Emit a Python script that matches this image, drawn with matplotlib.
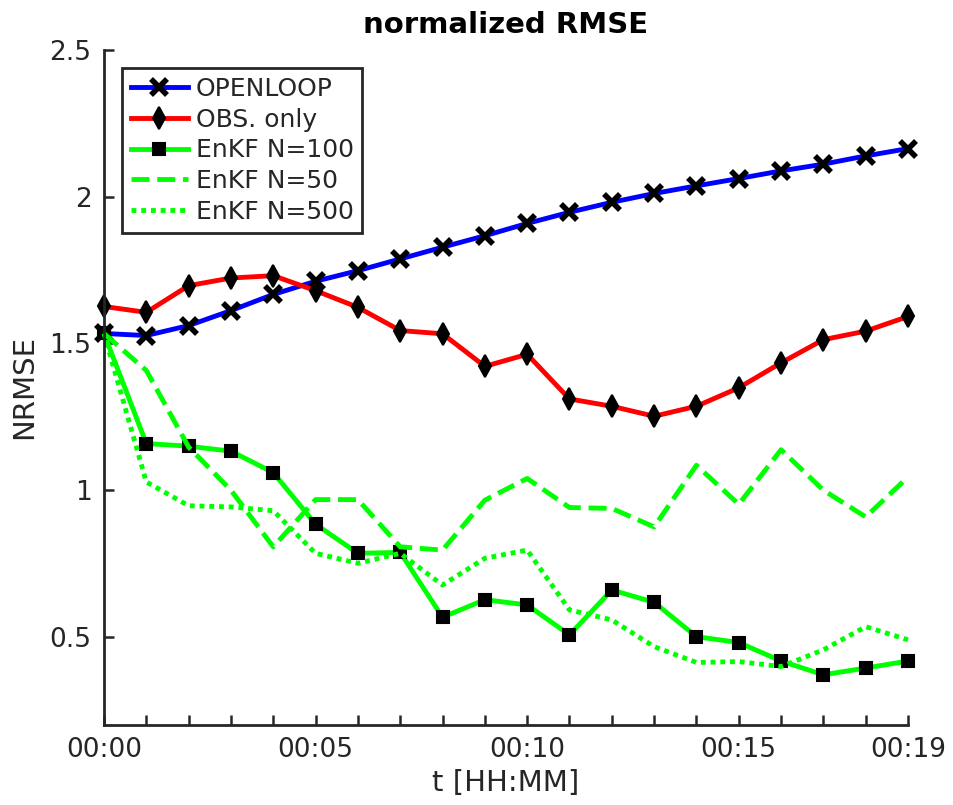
import matplotlib
matplotlib.use('Agg')
import matplotlib.pyplot as plt

# minutes since start
t = list(range(20))
tick_labels = ['00:00', '', '', '', '', '00:05', '', '', '', '', '00:10',
               '', '', '', '', '00:15', '', '', '', '00:19']

openloop = [1.534, 1.527, 1.561, 1.612, 1.667, 1.712, 1.748, 1.788, 1.828, 1.867,
            1.909, 1.947, 1.981, 2.011, 2.037, 2.062, 2.088, 2.111, 2.139, 2.164]
obs_only = [1.626, 1.606, 1.697, 1.723, 1.731, 1.680, 1.623, 1.544, 1.533, 1.422,
            1.463, 1.311, 1.286, 1.252, 1.286, 1.349, 1.434, 1.513, 1.542, 1.592]
enkf_100 = [1.534, 1.159, 1.150, 1.133, 1.060, 0.884, 0.785, 0.788, 0.567, 0.627,
            0.609, 0.507, 0.660, 0.618, 0.501, 0.481, 0.418, 0.371, 0.394, 0.418]
enkf_50 = [1.534, 1.408, 1.147, 1.000, 0.807, 0.968, 0.968, 0.807, 0.796, 0.966,
           1.040, 0.941, 0.938, 0.875, 1.085, 0.952, 1.138, 1.000, 0.909, 1.045]
enkf_500 = [1.534, 1.028, 0.947, 0.943, 0.930, 0.785, 0.751, 0.785, 0.677, 0.768,
            0.796, 0.592, 0.558, 0.467, 0.413, 0.416, 0.399, 0.456, 0.535, 0.490]

dark = '#262626'
lw = 3.5

fig = plt.figure(figsize=(9.54, 8.05), dpi=100)
ax = fig.add_axes([0.109, 0.0994, 0.8428, 0.8385])

ax.plot(t, openloop, color='#0000ff', lw=lw, marker='x', ms=12, mew=4,
        mec='k', label='OPENLOOP', clip_on=False)
ax.plot(t, obs_only, color='#ff0000', lw=lw, marker='d', ms=11, mew=1.5,
        mec='k', mfc='k', label='OBS. only', clip_on=False)
ax.plot(t, enkf_100, color='#00ff00', lw=lw, marker='s', ms=8, mew=1.5,
        mec='k', mfc='k', label='EnKF N=100', clip_on=False)
ax.plot(t, enkf_50, color='#00ff00', lw=lw, ls=(0, (3.7, 1.6)),
        label='EnKF N=50', clip_on=False)
ax.plot(t, enkf_500, color='#00ff00', lw=lw, ls=(0, (1, 1)),
        label='EnKF N=500', clip_on=False)

ax.set_xlim(0, 19)
ax.set_ylim(0.2, 2.5)
ax.set_xticks(t)
ax.set_xticklabels(tick_labels)
ax.set_yticks([0.5, 1, 1.5, 2, 2.5])
ax.set_yticklabels(['0.5', '1', '1.5', '2', '2.5'])

for s in ['top', 'right']:
    ax.spines[s].set_visible(False)
for s in ['left', 'bottom']:
    ax.spines[s].set_color(dark)
    ax.spines[s].set_linewidth(2)

ax.tick_params(direction='in', length=7, width=1.8, color=dark,
               labelcolor=dark, labelsize=19)
ax.tick_params(axis='x', pad=9)
ax.tick_params(axis='y', pad=9)

ax.set_title('normalized RMSE', fontsize=21, fontweight='bold', pad=12)
ax.set_xlabel('t [HH:MM]', fontsize=21, color=dark, labelpad=4)
ax.set_ylabel('NRMSE', fontsize=21, color=dark, labelpad=8)

leg = ax.legend(loc='upper left', bbox_to_anchor=(0.0224, 0.973),
                borderaxespad=0, fontsize=18, fancybox=False,
                edgecolor=dark, framealpha=1, handlelength=2.3,
                handletextpad=0.3, labelspacing=0.27, borderpad=0.35)
leg.get_frame().set_linewidth(2)
for txt in leg.get_texts():
    txt.set_color(dark)

fig.savefig('out.png', dpi=100)
